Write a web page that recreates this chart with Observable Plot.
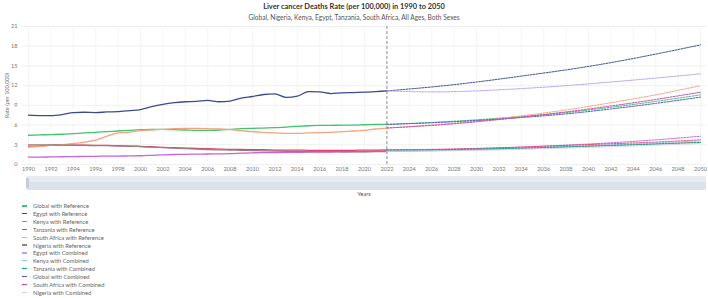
<!DOCTYPE html>
<html>
<head>
<meta charset="utf-8">
<script src="https://cdn.jsdelivr.net/npm/d3@7"></script>
<script src="https://cdn.jsdelivr.net/npm/@observablehq/plot@0.6"></script>
<style>
  body { margin: 0; background: #fff; font-family: Lato, "Open Sans", sans-serif; }
  #wrap { position: relative; width: 708px; height: 298px; overflow: hidden; }
  #title { position: absolute; top: 2px; left: 0; width: 708px; text-align: center;
           font-size: 7.4px; font-weight: 700; color: #333; }
  #subtitle { position: absolute; top: 12.5px; left: 0; width: 708px; text-align: center;
              font-size: 6.6px; color: #555; }
  #chart { position: absolute; top: 22px; left: 0; }
  #scroll { position: absolute; left: 26px; top: 176px; width: 680px; height: 14px;
            background: linear-gradient(#e8ebf2 0 45%, #dce1ea 45% 100%); border-radius: 2px; }
  #handle { position: absolute; left: 0; top: 2px; width: 3px; height: 10px; background: #c6cbd6; border-radius: 1px; }
  #xlabel { position: absolute; top: 190px; left: 0; width: 728px; text-align: center; font-size: 5.8px; color: #555; }
  #legend { position: absolute; left: 22px; top: 202px; }
  .item { height: 7.85px; display: flex; align-items: center; font-size: 5.8px; color: #666; }
  .sw { width: 5px; height: 1.3px; margin-right: 6px; }
</style>
</head>
<body>
<div id="wrap">
  <div id="title">Liver cancer Deaths Rate (per 100,000) in 1990 to 2050</div>
  <div id="subtitle">Global, Nigeria, Kenya, Egypt, Tanzania, South Africa, All Ages, Both Sexes</div>
  <div id="chart"></div>
  <div id="scroll"><div id="handle"></div></div>
  <div id="xlabel">Years</div>
  <div id="legend"></div>
</div>
<script>
// Observed years (reference estimates) and forecast years
const histYears = d3.range(1990, 2023);
const foreYears = [2022, 2026, 2030, 2034, 2038, 2042, 2046, 2050];

// Rates per 100,000, 1990–2022
const globalRef = [4.45, 4.5, 4.55, 4.6, 4.7, 4.8, 4.9, 5.0, 5.1, 5.2, 5.3, 5.35, 5.35, 5.3, 5.25, 5.2, 5.2,
  5.25, 5.35, 5.45, 5.5, 5.55, 5.6, 5.7, 5.8, 5.9, 5.95, 5.95, 6.0, 6.0, 6.05, 6.1, 6.1];
const egyptRef = [7.5, 7.45, 7.45, 7.6, 7.9, 7.95, 7.9, 8.0, 8.05, 8.2, 8.35, 8.8, 9.15, 9.4, 9.55, 9.6, 9.75,
  9.55, 9.65, 10.1, 10.35, 10.65, 10.75, 10.2, 10.4, 11.1, 11.05, 10.8, 10.9, 10.95, 11.0, 11.1, 11.2];
const kenyaRef = [1.12, 1.13, 1.15, 1.18, 1.2, 1.23, 1.25, 1.27, 1.28, 1.3, 1.33, 1.4, 1.47, 1.52, 1.55, 1.58, 1.6,
  1.62, 1.65, 1.72, 1.78, 1.8, 1.82, 1.83, 1.85, 1.87, 1.88, 1.9, 1.92, 1.95, 1.98, 2.02, 2.05];
const tanzaniaRef = [2.75, 2.8, 2.95, 2.95, 2.95, 2.95, 2.9, 2.9, 2.85, 2.8, 2.75, 2.7, 2.6, 2.55, 2.5, 2.45, 2.4,
  2.35, 2.3, 2.3, 2.25, 2.25, 2.2, 2.2, 2.2, 2.15, 2.15, 2.15, 2.15, 2.15, 2.2, 2.2, 2.22];
const southAfricaRef = [2.65, 2.75, 2.9, 3.0, 3.2, 3.4, 3.7, 4.3, 4.8, 4.9, 5.15, 5.25, 5.35, 5.45, 5.5, 5.5, 5.45,
  5.4, 5.3, 5.15, 5.0, 4.9, 4.8, 4.75, 4.75, 4.8, 4.85, 4.9, 5.0, 5.1, 5.2, 5.4, 5.55];
const nigeriaRef = [3.0, 3.0, 2.98, 2.95, 2.93, 2.9, 2.88, 2.86, 2.84, 2.8, 2.72, 2.64, 2.58, 2.5, 2.42, 2.35, 2.28,
  2.24, 2.2, 2.16, 2.12, 2.08, 2.05, 2.02, 2.0, 1.98, 1.96, 1.95, 1.94, 1.94, 1.94, 1.95, 1.97];

// Forecasts 2022–2050, reference and combined scenarios
const globalRefFc = [6.1, 6.4, 6.8, 7.3, 7.9, 8.7, 9.6, 10.6];
const egyptRefFc = [11.2, 11.8, 12.55, 13.45, 14.4, 15.5, 16.8, 18.2];
const kenyaRefFc = [2.05, 2.2, 2.4, 2.65, 2.95, 3.3, 3.75, 4.3];
const tanzaniaRefFc = [2.22, 2.3, 2.45, 2.65, 2.9, 3.15, 3.4, 3.75];
const southAfricaRefFc = [5.55, 6.0, 6.6, 7.4, 8.3, 9.4, 10.6, 12.0];
const nigeriaRefFc = [1.97, 2.1, 2.25, 2.45, 2.65, 2.9, 3.15, 3.4];
const egyptComb = [11.2, 11.05, 11.2, 11.55, 12.0, 12.55, 13.15, 13.8];
const kenyaComb = [2.05, 2.15, 2.3, 2.5, 2.75, 3.0, 3.3, 3.6];
const tanzaniaComb = [2.22, 2.25, 2.35, 2.5, 2.7, 2.9, 3.1, 3.35];
const globalComb = [6.1, 6.35, 6.7, 7.15, 7.7, 8.45, 9.3, 10.25];
const southAfricaComb = [5.55, 5.95, 6.5, 7.2, 8.0, 8.9, 9.9, 11.0];
const nigeriaComb = [1.97, 2.05, 2.15, 2.3, 2.5, 2.7, 2.95, 3.2];

const seriesNames = [
  "Global with Reference", "Egypt with Reference", "Kenya with Reference", "Tanzania with Reference",
  "South Africa with Reference", "Nigeria with Reference", "Egypt with Combined", "Kenya with Combined",
  "Tanzania with Combined", "Global with Combined", "South Africa with Combined", "Nigeria with Combined"
];
const seriesColors = [
  "#41c26f", "#3b4c8c", "#c963d8", "#e23f73", "#f9a07c", "#9a7d74",
  "#b7a0ea", "#93c7ea", "#23a07f", "#5356cc", "#bd4aa8", "#d3ccf0"
];

const histSeries = [globalRef, egyptRef, kenyaRef, tanzaniaRef, southAfricaRef, nigeriaRef];
const foreSeries = [globalRefFc, egyptRefFc, kenyaRefFc, tanzaniaRefFc, southAfricaRefFc, nigeriaRefFc,
  egyptComb, kenyaComb, tanzaniaComb, globalComb, southAfricaComb, nigeriaComb];

const hist = histSeries.flatMap((vals, i) =>
  vals.map((v, j) => ({series: seriesNames[i], year: histYears[j], rate: v})));
const fore = foreSeries.flatMap((vals, i) =>
  vals.map((v, j) => ({series: seriesNames[i], year: foreYears[j], rate: v})));

const chart = Plot.plot({
  width: 708,
  height: 152,
  marginTop: 4,
  marginLeft: 22,
  marginRight: 2,
  marginBottom: 10,
  insetLeft: 6,
  insetRight: 6,
  style: {fontSize: "5.6px", fontFamily: "Lato, 'Open Sans', sans-serif", color: "#777", background: "transparent"},
  x: {domain: [1990, 2050]},
  y: {domain: [0, 21]},
  color: {domain: seriesNames, range: seriesColors},
  marks: [
    Plot.gridY(d3.range(0, 22, 3), {stroke: "#e6e6e6", strokeOpacity: 1, strokeWidth: 0.6}),
    Plot.gridX(d3.range(1990, 2051, 2), {stroke: "#eeeeee", strokeOpacity: 1, strokeWidth: 0.6}),
    Plot.axisY(d3.range(0, 22, 3), {tickSize: 0, tickPadding: 5, label: "Rate (per 100,000)",
      labelAnchor: "center", labelArrow: "none", labelOffset: 17, fill: "#777"}),
    Plot.axisX(d3.range(1990, 2051, 2), {tickSize: 0, tickPadding: 3, tickFormat: "d", label: null, fill: "#777"}),
    Plot.ruleX([2022], {stroke: "#777", strokeWidth: 0.8, strokeDasharray: "3,2"}),
    Plot.line(hist, {x: "year", y: "rate", z: "series", stroke: "series", strokeWidth: 1.3, curve: "monotone-x"}),
    Plot.line(fore, {x: "year", y: "rate", z: "series", stroke: "series", strokeWidth: 1, strokeDasharray: "2,1.2", curve: "natural"})
  ]
});
document.getElementById("chart").append(chart);

// Legend entries
const legend = d3.select("#legend");
seriesNames.forEach((name, i) => {
  const row = legend.append("div").attr("class", "item");
  row.append("div").attr("class", "sw").style("background", seriesColors[i]);
  row.append("span").text(name);
});
</script>
</body>
</html>
